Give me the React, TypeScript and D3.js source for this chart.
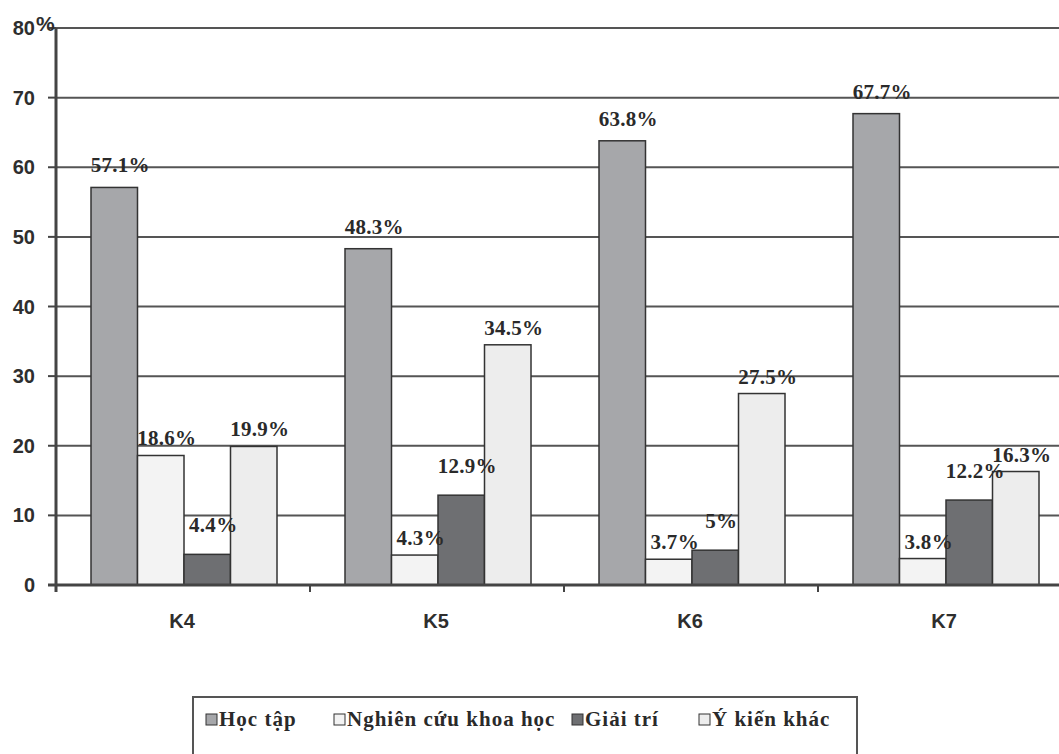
import { useEffect, useRef } from "react";
import * as d3 from "d3";

const categories = ["K4", "K5", "K6", "K7"];
const series = ["Học tập", "Nghiên cứu khoa học", "Giải trí", "Ý kiến khác"];
const hocTap = [57.1, 48.3, 63.8, 67.7];
const nghienCuu = [18.6, 4.3, 3.7, 3.8];
const giaiTri = [4.4, 12.9, 5, 12.2];
const yKienKhac = [19.9, 34.5, 27.5, 16.3];
const yTicks = [0, 10, 20, 30, 40, 50, 60, 70, 80];

const fills = ["#a6a7aa", "#f3f3f3", "#6e6f72", "#ededed"];
const serif = "'Liberation Serif', 'Times New Roman', 'DejaVu Serif', serif";
const sans = "'Liberation Sans', Arial, sans-serif";

export default function App() {
  const svgRef = useRef<SVGSVGElement>(null);

  useEffect(() => {
    if (!svgRef.current) return;
    const svg = d3.select(svgRef.current);
    svg.selectAll("*").remove();

    const width = 1059;
    const height = 754;
    const left = 56;
    const top = 28;
    const bottom = 585;

    const values = [hocTap, nghienCuu, giaiTri, yKienKhac];
    const rows = categories.map((c, i) => ({
      cat: c,
      vals: series.map((s, j) => ({ s, j, v: values[j][i] })),
    }));

    const x0 = d3.scaleBand<string>().domain(categories).range([left, left + 4 * 254]);
    const x1 = d3
      .scaleBand<string>()
      .domain(series)
      .range([35, 35 + 4 * 46.5]);
    const y = d3.scaleLinear().domain([0, 80]).range([bottom, top]);

    svg.attr("width", width).attr("height", height);

    // gridlines
    svg
      .append("g")
      .selectAll("line")
      .data(yTicks.filter((t) => t > 0))
      .enter()
      .append("line")
      .attr("x1", left)
      .attr("x2", width)
      .attr("y1", (d) => y(d))
      .attr("y2", (d) => y(d))
      .attr("stroke", "#555")
      .attr("stroke-width", 2);

    // bars
    const groups = svg
      .append("g")
      .selectAll("g")
      .data(rows)
      .enter()
      .append("g")
      .attr("transform", (d) => `translate(${x0(d.cat)},0)`);

    groups
      .selectAll("rect")
      .data((d) => d.vals)
      .enter()
      .append("rect")
      .attr("x", (d) => x1(d.s)!)
      .attr("width", x1.bandwidth())
      .attr("y", (d) => y(d.v))
      .attr("height", (d) => y(0) - y(d.v))
      .attr("fill", (d) => fills[d.j])
      .attr("stroke", "#333")
      .attr("stroke-width", 1.5);

    groups
      .selectAll("text")
      .data((d) => d.vals)
      .enter()
      .append("text")
      .attr("x", (d) => x1(d.s)! + x1.bandwidth() / 2 + 6)
      .attr("y", (d) => y(d.v) - (d.j === 0 ? 15 : d.j === 2 ? 22 : 10))
      .attr("text-anchor", "middle")
      .style("font-family", serif)
      .attr("font-weight", "bold")
      .attr("font-size", 21)
      .attr("letter-spacing", 0.3)
      .attr("fill", "#2a2a2a")
      .text((d) => `${d.v}%`);

    // y axis
    const ya = svg.append("g");
    ya.append("line")
      .attr("x1", left)
      .attr("x2", left)
      .attr("y1", top)
      .attr("y2", bottom + 7)
      .attr("stroke", "#444")
      .attr("stroke-width", 3);
    ya.selectAll("line.tick")
      .data(yTicks)
      .enter()
      .append("line")
      .attr("class", "tick")
      .attr("x1", left - 8)
      .attr("x2", left)
      .attr("y1", (d) => y(d))
      .attr("y2", (d) => y(d))
      .attr("stroke", "#444")
      .attr("stroke-width", 2);
    ya.selectAll("text")
      .data(yTicks)
      .enter()
      .append("text")
      .attr("x", 35)
      .attr("y", (d) => y(d) + 7)
      .attr("text-anchor", "end")
      .style("font-family", sans)
      .attr("font-weight", "bold")
      .attr("font-size", 20)
      .attr("fill", "#2e2e2e")
      .text((d) => String(d));
    ya.append("text")
      .attr("x", 36)
      .attr("y", y(80) + 3)
      .style("font-family", sans)
      .attr("font-weight", "bold")
      .attr("font-size", 21)
      .attr("fill", "#2e2e2e")
      .text("%");

    // x axis
    const xa = svg.append("g");
    xa.append("line")
      .attr("x1", left - 8)
      .attr("x2", width)
      .attr("y1", bottom)
      .attr("y2", bottom)
      .attr("stroke", "#444")
      .attr("stroke-width", 3);
    xa.selectAll("line.tick")
      .data(categories.slice(1))
      .enter()
      .append("line")
      .attr("class", "tick")
      .attr("x1", (d) => x0(d)!)
      .attr("x2", (d) => x0(d)!)
      .attr("y1", bottom)
      .attr("y2", bottom + 7)
      .attr("stroke", "#444")
      .attr("stroke-width", 2);
    xa.selectAll("text")
      .data(categories)
      .enter()
      .append("text")
      .attr("x", (d) => x0(d)! + 35 + 2 * 46.5 - 2)
      .attr("y", 628)
      .attr("text-anchor", "middle")
      .style("font-family", sans)
      .attr("font-weight", "bold")
      .attr("font-size", 20)
      .attr("fill", "#2e2e2e")
      .text((d) => d);

    // legend
    const lg = svg.append("g");
    lg.append("rect")
      .attr("x", 193)
      .attr("y", 697)
      .attr("width", 664)
      .attr("height", 70)
      .attr("fill", "white")
      .attr("stroke", "#555")
      .attr("stroke-width", 2);
    const legendX = [206, 334, 572, 699];
    const items = lg
      .selectAll("g")
      .data(series)
      .enter()
      .append("g")
      .attr("transform", (d, i) => `translate(${legendX[i]},720)`);
    items
      .append("rect")
      .attr("x", 0)
      .attr("y", -6)
      .attr("width", 11)
      .attr("height", 11)
      .attr("fill", (d, i) => fills[i])
      .attr("stroke", "#333")
      .attr("stroke-width", 1);
    items
      .append("text")
      .attr("x", 13)
      .attr("y", 6)
      .style("font-family", serif)
      .attr("font-weight", "bold")
      .attr("font-size", 21)
      .attr("letter-spacing", 1)
      .attr("fill", "#2a2a2a")
      .text((d) => d);
  }, []);

  return (
    <div style={{ position: "absolute", left: 0, top: 0 }}>
      <svg ref={svgRef} style={{ display: "block", background: "white" }}></svg>
    </div>
  );
}
